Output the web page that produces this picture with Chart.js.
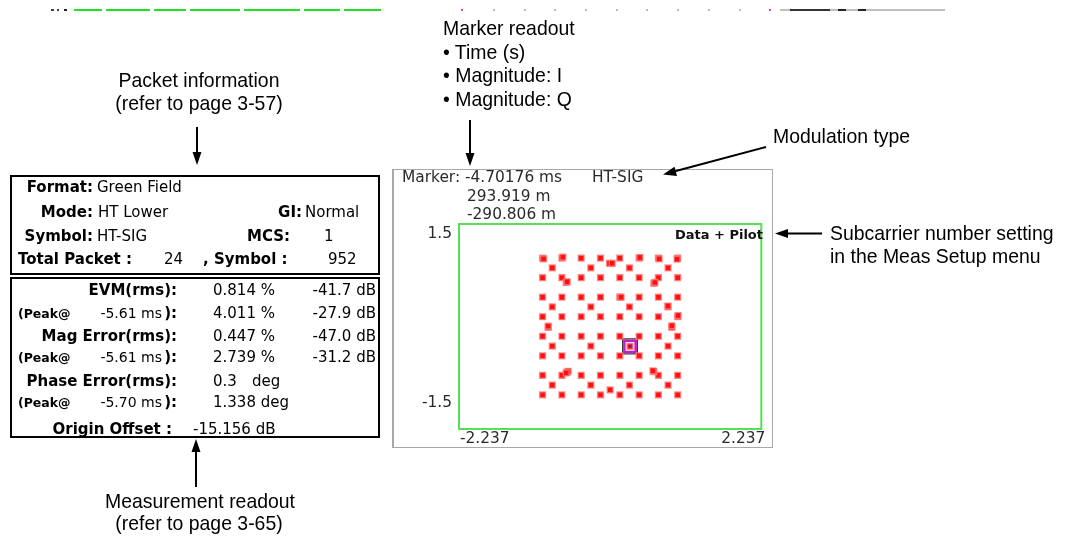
<!DOCTYPE html>
<html><head><meta charset="utf-8">
<script src="https://cdn.jsdelivr.net/npm/chart.js@4/dist/chart.umd.min.js"></script>
<style>
html,body{margin:0;padding:0;background:#fff;}
#root{position:relative;width:1065px;height:538px;overflow:hidden;background:#fff;}
.t{position:absolute;white-space:pre;line-height:1;}
.ann{font-family:"Liberation Sans",Arial,sans-serif;font-size:21px;color:#000;}
.scr{font-family:"DejaVu Sans",sans-serif;font-size:15px;color:#000;}
.scrb{font-family:"DejaVu Sans",sans-serif;font-size:15px;font-weight:bold;color:#000;}
.pk{font-family:"DejaVu Sans",sans-serif;font-size:12.5px;font-weight:bold;color:#000;}
.pv{font-family:"DejaVu Sans",sans-serif;font-size:14px;color:#000;}
.mk{font-family:"DejaVu Sans",sans-serif;font-size:15.4px;color:#2a2a2a;}
.dp{font-family:"DejaVu Sans",sans-serif;font-size:13px;font-weight:bold;color:#111;}
.box{position:absolute;box-sizing:border-box;border:2px solid #000;}
.seg{position:absolute;height:1px;}
#panel{position:absolute;left:392px;top:169px;width:381px;height:279px;box-sizing:border-box;border:1px solid #a8a8a8;border-left-width:2px;}
#cwrap{position:absolute;left:392px;top:169px;width:381px;height:279px;}
svg{position:absolute;left:0;top:0;}
</style>
</head>
<body>
<div id="root">
  <div id="panel"></div>
  <div id="cwrap"><canvas id="c"></canvas></div>
  <div class="box" style="left:10px;top:175px;width:370px;height:100px;"></div>
  <div class="box" style="left:10px;top:277px;width:370px;height:161px;"></div>
  <svg width="1065" height="538" viewBox="0 0 1065 538">
    <g stroke="#000" stroke-width="2" fill="#000">
      <line x1="197" y1="127" x2="197" y2="154"/>
      <polygon points="192.5,152 201.5,152 197,165" stroke="none"/>
      <line x1="470" y1="120" x2="470" y2="155"/>
      <polygon points="465.5,153 474.5,153 470,166" stroke="none"/>
      <line x1="766" y1="147" x2="674" y2="171.5"/>
      <polygon points="663,174.5 674.5,166.8 677,176" stroke="none"/>
      <line x1="822" y1="233.5" x2="786" y2="233.5"/>
      <polygon points="775,233.5 788,229 788,238" stroke="none"/>
      <line x1="196" y1="487" x2="196" y2="450"/>
      <polygon points="191.5,452 200.5,452 196,439" stroke="none"/>
    </g>
  </svg>
</div>
<script>
// ---- constellation data (I, Q) ----
const qamI = [
  -1.0,-0.714,-0.429,-0.143,0.143,0.429,0.714,1.0,
  -0.985,-0.70,0.44,0.725,0.99,
  -1.0,-0.714,-0.429,-0.143,0.143,0.429,0.714,1.0,
  -0.651,-0.636,0.647,0.662,
  -1.0,-0.714,-0.429,-0.143,0.143,0.162,0.429,0.714,1.0,
  -1.0,-0.714,-0.429,-0.143,0.143,0.429,0.714,1.0,1.005,
  -1.0,-0.714,-0.429,-0.143,0.143,0.429,0.714,1.0,
  -1.0,-0.714,-0.429,-0.143,0.143,0.429,0.714,1.0,
  -1.0,-0.714,-0.429,-0.143,0.143,0.429,0.714,1.0,
  -0.637,-0.622,-0.65,0.647,0.633,
  -1.0,-0.714,-0.429,-0.143,0.143,0.429,0.714,1.0
];
const qamQ = [
  1.0,1.0,1.0,1.0,1.0,1.0,1.0,1.0,
  0.99,1.015,1.01,0.99,0.985,
  0.714,0.714,0.714,0.714,0.714,0.714,0.714,0.714,
  0.644,0.655,0.630,0.645,
  0.429,0.429,0.429,0.429,0.429,0.429,0.429,0.429,0.429,
  0.143,0.143,0.143,0.143,0.143,0.143,0.143,0.143,0.16,
  -0.143,-0.143,-0.143,-0.143,-0.143,-0.143,-0.143,-0.143,
  -0.429,-0.429,-0.429,-0.429,-0.429,-0.429,-0.429,-0.429,
  -0.714,-0.714,-0.714,-0.714,-0.714,-0.714,-0.714,-0.714,
  -0.669,-0.655,-0.68,-0.66,-0.648,
  -1.0,-1.0,-1.0,-1.0,-1.0,-1.0,-1.0,-1.0
];
const pilotI = [-0.857,-0.286,-0.01,0.03,0.286,0.857, -0.857,-0.286,0.286,0.857,0.855,
  -0.917,-0.917,0.913,0.913, -0.857,-0.286,0.857, -0.857,-0.286,0.0,0.286,0.857];
const pilotQ = [0.857,0.857,0.925,0.925,0.857,0.857, 0.286,0.286,0.286,0.286,0.30,
  -0.012,0.005,-0.012,0.01, -0.286,-0.286,-0.286, -0.857,-0.857,-0.927,-0.857,-0.857];
const markerI = [0.2939];
const markerQ = [-0.2908];
const xRange = [-2.237, 2.237];
const yRange = [-1.5, 1.5];
const xTickLabels = ['-2.237', '2.237'];
const yTickLabels = ['1.5', '-1.5'];

function pts(a, b){ return a.map((v,i)=>({x:v, y:b[i]})); }

const root = document.getElementById('root');
function T(x, y, text, cls, align, sx){
  const d = document.createElement('div');
  d.className = 't ' + cls;
  d.textContent = text;
  d.style.left = x + 'px';
  d.style.top = y + 'px';
  const tx = align === 'r' ? '-100%' : (align === 'c' ? '-50%' : '0');
  const origin = align === 'r' ? 'right' : (align === 'c' ? 'center' : 'left');
  d.style.transformOrigin = origin + ' center';
  d.style.transform = 'translate(' + tx + ',-50%)' + (sx ? ' scaleX(' + sx + ')' : '');
  root.appendChild(d);
}
const NX = 0.925;

// annotations
T(199, 79, 'Packet information', 'ann', 'c', NX);
T(199, 101.5, '(refer to page 3-57)', 'ann', 'c', NX);
T(443, 27, 'Marker readout', 'ann', 'l', NX);
T(443, 50.5, '\u2022 Time (s)', 'ann', 'l', NX);
T(443, 74, '\u2022 Magnitude: I', 'ann', 'l', NX);
T(443, 97.5, '\u2022 Magnitude: Q', 'ann', 'l', NX);
T(773, 134.5, 'Modulation type', 'ann', 'l', NX);
T(830, 231.5, 'Subcarrier number setting', 'ann', 'l', NX);
T(830, 255, 'in the Meas Setup menu', 'ann', 'l', NX);
T(200, 499.5, 'Measurement readout', 'ann', 'c', NX);
T(199, 521.5, '(refer to page 3-65)', 'ann', 'c', NX);

// packet info box
T(93, 187, 'Format:', 'scrb', 'r');  T(97, 187, 'Green Field', 'scr', 'l');
T(93, 212, 'Mode:', 'scrb', 'r');    T(98, 212, 'HT Lower', 'scr', 'l');
T(302, 212, 'GI:', 'scrb', 'r');     T(305, 212, 'Normal', 'scr', 'l');
T(93, 236, 'Symbol:', 'scrb', 'r');  T(97, 236, 'HT-SIG', 'scr', 'l');
T(290, 236, 'MCS:', 'scrb', 'r');    T(324, 236, '1', 'scr', 'l');
T(18, 259, 'Total Packet :', 'scrb', 'l'); T(183, 259, '24', 'scr', 'r');
T(203, 259, ', Symbol :', 'scrb', 'l'); T(328, 259, '952', 'scr', 'l');

// measurement box
T(177, 290, 'EVM(rms):', 'scrb', 'r'); T(213, 290, '0.814 %', 'scr', 'l'); T(376, 290, '-41.7 dB', 'scr', 'r');
T(18, 314, '(Peak@', 'pk', 'l'); T(162, 313, '-5.61 ms', 'pv', 'r'); T(177, 313, '):', 'scrb', 'r');
T(213, 313, '4.011 %', 'scr', 'l'); T(376, 313, '-27.9 dB', 'scr', 'r');
T(177, 335.5, 'Mag Error(rms):', 'scrb', 'r'); T(213, 335.5, '0.447 %', 'scr', 'l'); T(376, 335.5, '-47.0 dB', 'scr', 'r');
T(18, 358, '(Peak@', 'pk', 'l'); T(162, 357, '-5.61 ms', 'pv', 'r'); T(177, 357, '):', 'scrb', 'r');
T(213, 357, '2.739 %', 'scr', 'l'); T(376, 357, '-31.2 dB', 'scr', 'r');
T(177, 380.5, 'Phase Error(rms):', 'scrb', 'r'); T(213, 380.5, '0.3', 'scr', 'l'); T(252, 380.5, 'deg', 'scr', 'l');
T(18, 403, '(Peak@', 'pk', 'l'); T(162, 402, '-5.70 ms', 'pv', 'r'); T(177, 402, '):', 'scrb', 'r');
T(213, 402, '1.338 deg', 'scr', 'l');
T(172, 428.5, 'Origin Offset :', 'scrb', 'r'); T(193, 428.5, '-15.156 dB', 'scr', 'l');

// screen readouts
T(402, 178, 'Marker: -4.70176 ms', 'mk', 'l');
T(592, 178, 'HT-SIG', 'mk', 'l');
T(467, 196.7, '293.919 m', 'mk', 'l');
T(467, 215, '-290.806 m', 'mk', 'l');
T(763, 233.5, 'Data + Pilot', 'dp', 'r');

// cropped strip at the top
function seg(x1, x2, y, color, h){
  const d = document.createElement('div');
  d.className = 'seg';
  d.style.left = x1 + 'px'; d.style.width = (x2 - x1) + 'px';
  d.style.top = y + 'px'; d.style.background = color;
  if (h) d.style.height = h + 'px';
  root.appendChild(d);
}
seg(51, 54, 9, '#444', 2); seg(57, 59, 9, '#444', 2); seg(64, 67, 9, '#222', 2);
[[74,102],[106,150],[154,186],[190,240],[244,300],[304,340],[344,381]].forEach(s => seg(s[0], s[1], 9, '#22e022', 2));
seg(461, 463, 9, '#dd44dd', 2); seg(769, 771, 9, '#dd44dd', 2);
[493,524,554,585,616,646,677,708,739].forEach(x => seg(x, x+2, 9, '#bbbbbb', 2));
seg(780, 945, 9, '#c0c0c0', 2); seg(790, 830, 9, '#333', 2); seg(838, 846, 9, '#222', 2); seg(858, 866, 9, '#222', 2);

const framePlugin = {
  id: 'frame',
  afterDraw(chart){
    const ctx = chart.ctx, a = chart.chartArea;
    ctx.save();
    ctx.strokeStyle = '#55e055';
    ctx.lineWidth = 2;
    ctx.strokeRect(a.left, a.top, a.right - a.left, a.bottom - a.top);
    ctx.fillStyle = '#2a2a2a';
    ctx.font = '15.4px "DejaVu Sans"';
    ctx.textBaseline = 'middle';
    ctx.textAlign = 'right';
    ctx.fillText(yTickLabels[0], a.left - 7, a.top + 9.5);
    ctx.fillText(yTickLabels[1], a.left - 7, a.bottom - 26.5);
    ctx.textAlign = 'left';
    ctx.fillText(xTickLabels[0], a.left + 1, a.bottom + 9.5);
    ctx.textAlign = 'right';
    ctx.fillText(xTickLabels[1], a.right + 4, a.bottom + 9.5);
    ctx.restore();
  }
};

new Chart(document.getElementById('c'), {
  type: 'scatter',
  data: {
    datasets: [
      { label: 'frame', data: pts(markerI, markerQ), pointStyle: 'rect', pointRadius: 10.5,
        backgroundColor: 'rgba(0,0,0,0)', borderColor: '#3a3a3a', borderWidth: 1.2, order: 5 },
      { label: 'ring', data: pts(markerI, markerQ), pointStyle: 'rect', pointRadius: 8,
        backgroundColor: '#ffffff', borderColor: '#c21cc2', borderWidth: 2.5, order: 4 },
      { label: 'data', data: pts(qamI, qamQ), pointStyle: 'rect', pointRadius: 4.1,
        backgroundColor: '#ff1010', borderColor: 'rgba(255,120,120,0.8)', borderWidth: 1.4, order: 3 },
      { label: 'pilot', data: pts(pilotI, pilotQ).concat(pts(markerI, markerQ)), pointStyle: 'rect', pointRadius: 4.1,
        backgroundColor: '#ff1010', borderColor: 'rgba(255,120,120,0.8)', borderWidth: 1.4, order: 2 },
      { label: 'dot', data: pts(markerI, markerQ), pointStyle: 'circle', pointRadius: 1.3,
        backgroundColor: '#3030b0', borderWidth: 0, order: 1 }
    ]
  },
  options: {
    responsive: true,
    maintainAspectRatio: false,
    animation: false,
    events: [],
    layout: { padding: { left: 67, top: 55, right: 7, bottom: 19 } },
    scales: {
      x: { type: 'linear', min: xRange[0], max: xRange[1], display: false },
      y: { type: 'linear', min: yRange[0], max: yRange[1], display: false }
    },
    plugins: { legend: { display: false }, tooltip: { enabled: false } }
  },
  plugins: [framePlugin]
});
</script>
</body></html>
